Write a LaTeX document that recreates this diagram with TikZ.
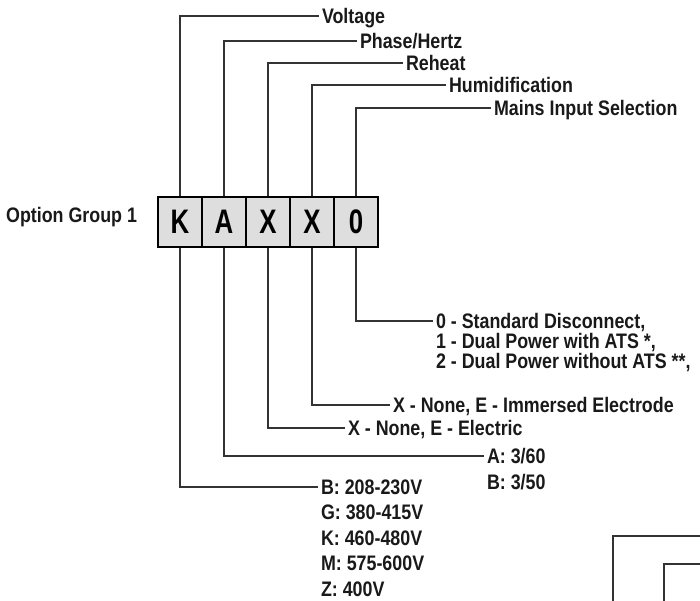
\documentclass[tikz,border=0pt]{standalone}
\usepackage{fontspec}
\setmainfont[FakeStretch=0.85]{Liberation Sans}
\newfontfamily\cellfont[FakeStretch=0.76]{Liberation Sans}
\usetikzlibrary{matrix,positioning}
\tikzset{
	lead/.style={draw=black!80, line width=1.2pt},
	lbl/.style={font=\bfseries\fontsize{21}{24}\selectfont, text=black!90, inner xsep=3pt, inner ysep=0pt,
		outer sep=0pt, text height=14.8pt, text depth=0pt, anchor=west},
	codecell/.style={draw, line width=2pt, fill=black!13, minimum width=44pt, minimum height=50pt,
		inner sep=0pt, text height=23.5pt, text depth=0pt, font=\cellfont\bfseries\fontsize{34}{34}\selectfont}
}

\begin{document}
\begin{tikzpicture}[x=1pt,y=-1pt]
\useasboundingbox (0,0) rectangle (700,601);
\matrix (m) [matrix of nodes, ampersand replacement=\&, column sep=-2pt, nodes={codecell}] at (268,222)
{ K \& A \& X \& X \& 0 \\ };
\node[lbl, anchor=east] (grp) at (140,215) {Option Group 1};

% top labels
\node[lbl] (volt) at (319,16) {Voltage};
\node[lbl] (phase) at (357,41) {Phase/Hertz};
\node[lbl] (reheat) at (403,63) {Reheat};
\node[lbl] (humid) at (446,85) {Humidification};
\node[lbl] (mains) at (491,108) {Mains Input Selection};

% bottom labels
\node[lbl] (std) at (433,321) {0 - Standard Disconnect,};
\node[lbl, below=5pt of std.south west, anchor=north west] (ats) {1 - Dual Power with ATS *,};
\node[lbl, below=5pt of ats.south west, anchor=north west] (noats) {2 - Dual Power without ATS **,};
\node[lbl] (elec) at (390,405) {X - None, E - Immersed Electrode};
\node[lbl] (rh) at (345,428) {X - None, E - Electric};
\node[lbl] (hz60) at (484,456) {A: 3/60};
\node[lbl, below=11.7pt of hz60.south west, anchor=north west] (hz50) {B: 3/50};
\node[lbl] (vb) at (318,487) {B: 208-230V};
\node[lbl, below=10.7pt of vb.south west, anchor=north west] (vg) {G: 380-415V};
\node[lbl, below=10.7pt of vg.south west, anchor=north west] (vk) {K: 460-480V};
\node[lbl, below=10.7pt of vk.south west, anchor=north west] (vm) {M: 575-600V};
\node[lbl, below=10.7pt of vm.south west, anchor=north west] (vz) {Z: 400V};

% leaders
\path[lead] (m-1-1.north) |- (volt.west)
	(m-1-2.north) |- (phase.west)
	(m-1-3.north) |- (reheat.west)
	(m-1-4.north) |- (humid.west)
	(m-1-5.north) |- (mains.west);
\path[lead] (m-1-5.south) |- (std.west)
	(m-1-4.south) |- (elec.west)
	(m-1-3.south) |- (rh.west)
	(m-1-2.south) |- (hz60.west)
	(m-1-1.south) |- (vb.west);

% cut-off corners, bottom right
\coordinate (cutA) at (613,601);
\coordinate (cutAend) at (700,536);
\coordinate (cutB) at (664,601);
\coordinate (cutBend) at (700,564);
\path[lead] (cutA) |- (cutAend)
	(cutB) |- (cutBend);
\end{tikzpicture}
\end{document}
